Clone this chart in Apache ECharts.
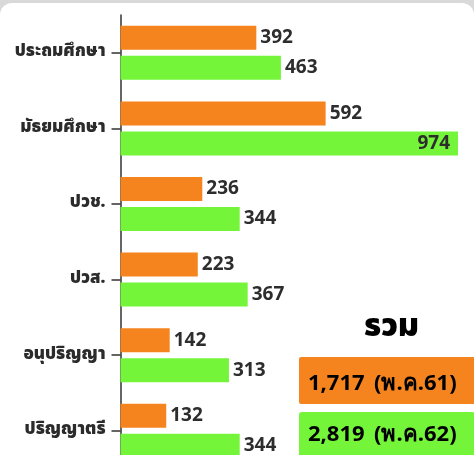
<!DOCTYPE html>
<html>
<head>
<meta charset="utf-8">
<script src="https://cdn.jsdelivr.net/npm/echarts@6/dist/echarts.min.js"></script>
<style>
html,body{margin:0;padding:0;background:#d9d9d9;overflow:hidden;}
#chart{width:474px;height:470px;}
</style>
</head>
<body>
<div id="chart"></div>
<script>
var categories = ['ประถมศึกษา', 'มัธยมศึกษา', 'ปวช.', 'ปวส.', 'อนุปริญญา', 'ปริญญาตรี'];
var values2561 = [392, 592, 236, 223, 142, 132];
var values2562 = [463, 974, 344, 367, 313, 344];
var totalTitle = 'รวม';
var totalNumbers = ['1,717', '2,819'];
var totalPeriods = ['(พ.ค.61)', '(พ.ค.62)'];

var chart = echarts.init(document.getElementById('chart'), null, {renderer: 'canvas'});
var labelFont = '"Noto Sans Thai", "Noto Sans", "Open Sans", sans-serif';
var numFont = '"Open Sans", "Noto Sans", sans-serif';
var orange = '#F5841F';
var green = '#74F53A';

var d2 = values2562.map(function (v) {
  return v > 900 ? {value: v, label: {position: 'insideRight', distance: 8}} : v;
});

chart.setOption({
  backgroundColor: 'transparent',
  animation: false,
  graphic: [
    {type: 'rect', z: -10, silent: true, shape: {x: 0, y: 3, width: 474, height: 480, r: 12}, style: {fill: '#ffffff'}},
    {type: 'text', z: 10, style: {x: 391.5, y: 330, text: totalTitle, align: 'center', verticalAlign: 'middle', font: '900 32px ' + labelFont, fill: '#000'}},
    {type: 'rect', z: 5, shape: {x: 299, y: 357, width: 176, height: 47, r: 2}, style: {fill: orange}},
    {type: 'rect', z: 5, shape: {x: 299, y: 412, width: 176, height: 60, r: 3}, style: {fill: green}},
    {type: 'text', z: 10, style: {x: 308, y: 384, text: totalNumbers[0], align: 'left', verticalAlign: 'middle', font: 'bold 22px ' + numFont, fill: '#000'}},
    {type: 'text', z: 10, style: {x: 374, y: 384, text: totalPeriods[0], align: 'left', verticalAlign: 'middle', font: 'bold 22px ' + numFont, fill: '#000'}},
    {type: 'text', z: 10, style: {x: 308, y: 435, text: totalNumbers[1], align: 'left', verticalAlign: 'middle', font: 'bold 22px ' + numFont, fill: '#000'}},
    {type: 'text', z: 10, style: {x: 374, y: 435, text: totalPeriods[1], align: 'left', verticalAlign: 'middle', font: 'bold 22px ' + numFont, fill: '#000'}}
  ],
  grid: {left: 120.5, width: 346.5, top: 15, height: 453.6, containLabel: false},
  xAxis: {type: 'value', min: 0, max: 1000, show: false},
  yAxis: {
    type: 'category', data: categories, inverse: true,
    axisLine: {show: true, lineStyle: {color: '#333', width: 1.5}},
    axisTick: {show: true, alignWithLabel: true, length: 9, lineStyle: {color: '#333', width: 1.5}},
    axisLabel: {margin: 15, color: '#2b2b2b', fontWeight: 900, fontSize: 17, fontFamily: labelFont}
  },
  series: [
    {
      name: '2561', type: 'bar', data: values2561, barWidth: 24, barGap: '25%',
      itemStyle: {color: orange},
      label: {show: true, position: 'right', distance: 4, color: '#2d2d2d', fontWeight: 'bold', fontSize: 19, fontFamily: numFont}
    },
    {
      name: '2562', type: 'bar', data: d2, barWidth: 24,
      itemStyle: {color: green},
      label: {show: true, position: 'right', distance: 4, color: '#2d2d2d', fontWeight: 'bold', fontSize: 19, fontFamily: numFont}
    }
  ]
});
</script>
</body>
</html>
